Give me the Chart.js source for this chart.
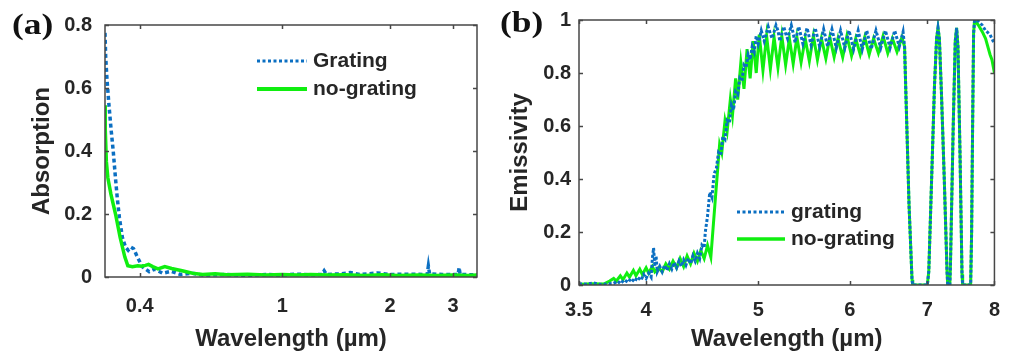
<!DOCTYPE html>
<html>
<head>
<meta charset="utf-8">
<script src="https://cdn.jsdelivr.net/npm/chart.js@4.4.1/dist/chart.umd.min.js"></script>
<style>
  html, body { margin: 0; padding: 0; background: #fff; width: 1013px; height: 354px; overflow: hidden; }
  .panel { position: absolute; top: 0; }
  #panelA { left: 0; }
  #panelB { left: 500px; }
</style>
</head>
<body>
<div class="panel" id="panelA"><canvas id="chartA" width="500" height="354"></canvas></div>
<div class="panel" id="panelB"><canvas id="chartB" width="513" height="354"></canvas></div>
<script>
// ---- data: [wavelength (um), value] ----

// (a) absorption, log wavelength axis
const absGrating = [
  [0.320, 0.775], [0.3214, 0.70], [0.3241, 0.628], [0.3283, 0.545], [0.3326, 0.471],
  [0.3375, 0.398], [0.3422, 0.315], [0.3462, 0.252], [0.351, 0.189], [0.3578, 0.126],
  [0.365, 0.095], [0.3714, 0.085], [0.378, 0.095], [0.3846, 0.09], [0.3938, 0.064],
  [0.4071, 0.032], [0.4252, 0.017], [0.44, 0.025], [0.4637, 0.012], [0.49, 0.018],
  [0.52, 0.008], [0.56, 0.012], [0.6, 0.006], [0.7, 0.008], [0.8, 0.005], [0.9, 0.008],
  [1.0, 0.006], [1.1, 0.009], [1.2, 0.007], [1.29, 0.008], [1.31, 0.02], [1.33, 0.008],
  [1.45, 0.01], [1.55, 0.014], [1.65, 0.008], [1.85, 0.013], [2.0, 0.008], [2.3, 0.009],
  [2.54, 0.008], [2.56, 0.035], [2.58, 0.01], [2.8, 0.008], [3.1, 0.008], [3.12, 0.03],
  [3.14, 0.008], [3.5, 0.007]
];
const absNoGrating = [
  [0.320, 0.545], [0.3205, 0.47], [0.3228, 0.367], [0.3259, 0.315], [0.3324, 0.263],
  [0.3424, 0.2], [0.3527, 0.126], [0.3634, 0.064], [0.3705, 0.036], [0.3817, 0.033],
  [0.395, 0.036], [0.405, 0.034], [0.415, 0.037], [0.4233, 0.04], [0.435, 0.033],
  [0.45, 0.026], [0.47, 0.033], [0.491, 0.027], [0.5255, 0.02], [0.5618, 0.012],
  [0.6, 0.008], [0.65, 0.01], [0.7, 0.007], [0.8, 0.009], [0.9, 0.006], [1.0, 0.008],
  [1.1, 0.006], [1.2, 0.008], [1.35, 0.006], [1.5, 0.007], [1.7, 0.005], [1.9, 0.007],
  [2.1, 0.005], [2.4, 0.006], [2.7, 0.005], [3.0, 0.006], [3.3, 0.005], [3.5, 0.006]
];
const absXTicks = [0.4, 1, 2, 3];
const absYTicks = [0, 0.2, 0.4, 0.6, 0.8];

// (b) emissivity, log wavelength axis 3.5-8
const emiGrating = [
  [3.5, 0.005], [3.55, 0.003], [3.6, 0.008], [3.65, 0.002], [3.7, 0.004], [3.75, 0.006],
  [3.78, 0.015], [3.8, 0.005], [3.83, 0.02], [3.86, 0.01], [3.88, 0.025], [3.91, 0.012],
  [3.93, 0.03], [3.96, 0.018], [3.98, 0.04], [4.0, 0.025], [4.02, 0.045], [4.04, 0.03],
  [4.05, 0.1], [4.06, 0.14], [4.07, 0.07], [4.08, 0.11], [4.09, 0.05], [4.11, 0.07],
  [4.13, 0.05], [4.15, 0.075], [4.17, 0.055], [4.19, 0.08], [4.21, 0.06], [4.23, 0.085],
  [4.25, 0.065], [4.27, 0.09], [4.29, 0.07], [4.31, 0.095], [4.33, 0.075], [4.35, 0.1],
  [4.37, 0.08], [4.39, 0.11], [4.41, 0.09], [4.43, 0.12], [4.45, 0.1], [4.47, 0.15],
  [4.49, 0.14], [4.5, 0.2], [4.52, 0.26], [4.54, 0.35], [4.56, 0.33], [4.58, 0.42],
  [4.6, 0.44], [4.62, 0.5], [4.64, 0.49], [4.66, 0.56], [4.68, 0.55], [4.7, 0.62],
  [4.72, 0.61], [4.74, 0.68], [4.76, 0.66], [4.78, 0.73], [4.8, 0.72], [4.82, 0.78],
  [4.84, 0.77], [4.86, 0.83], [4.88, 0.82], [4.9, 0.87], [4.92, 0.85], [4.94, 0.9],
  [4.96, 0.88], [4.98, 0.94], [5.0, 0.91],
  [5.03, 0.96], [5.06, 0.92], [5.1, 0.975], [5.12, 0.95], [5.14, 0.93], [5.18, 0.98],
  [5.2, 0.96], [5.22, 0.92], [5.26, 0.975], [5.28, 0.95], [5.3, 0.93], [5.34, 0.98],
  [5.36, 0.95], [5.38, 0.915], [5.42, 0.975], [5.465, 0.91],
  [5.51, 0.97], [5.555, 0.905], [5.6, 0.97], [5.65, 0.9], [5.695, 0.965], [5.74, 0.9],
  [5.79, 0.965], [5.84, 0.895], [5.89, 0.96], [5.94, 0.895], [5.99, 0.96], [6.045, 0.89],
  [6.1, 0.96], [6.15, 0.89], [6.205, 0.96], [6.26, 0.89], [6.32, 0.96], [6.38, 0.895],
  [6.44, 0.96], [6.5, 0.895], [6.56, 0.96], [6.62, 0.9], [6.67, 0.955],
  [6.69, 0.9], [6.72, 0.6], [6.75, 0.3], [6.79, 0.02], [6.8, 0], [6.9, 0], [7.0, 0],
  [7.02, 0.05], [7.06, 0.4], [7.1, 0.75], [7.13, 0.93], [7.15, 0.97], [7.17, 0.93],
  [7.2, 0.72], [7.24, 0.4], [7.28, 0.05], [7.29, 0], [7.32, 0], [7.33, 0.08], [7.37, 0.6],
  [7.4, 0.92], [7.42, 0.97], [7.44, 0.9], [7.47, 0.5], [7.5, 0.04], [7.51, 0], [7.63, 0],
  [7.645, 0.2], [7.66, 0.6], [7.675, 0.95], [7.69, 1.0], [7.75, 0.995], [7.81, 0.98],
  [7.86, 0.96], [7.93, 0.945], [8.0, 0.91]
];
const emiNoGrating = [
  [3.5, 0.003], [3.6, 0.005], [3.68, 0.004], [3.72, 0.015], [3.75, 0.025], [3.77, 0.015],
  [3.8, 0.035], [3.82, 0.02], [3.85, 0.045], [3.87, 0.03], [3.9, 0.055], [3.92, 0.035],
  [3.95, 0.06], [3.97, 0.04], [4.0, 0.065], [4.02, 0.045], [4.05, 0.07], [4.07, 0.05],
  [4.1, 0.065], [4.13, 0.05], [4.16, 0.08], [4.19, 0.06], [4.22, 0.09], [4.25, 0.065],
  [4.28, 0.1], [4.31, 0.07], [4.34, 0.11], [4.37, 0.08], [4.4, 0.12], [4.43, 0.09],
  [4.46, 0.13], [4.49, 0.1], [4.52, 0.15], [4.55, 0.105],
  [4.59, 0.32], [4.63, 0.53], [4.65, 0.5], [4.68, 0.62], [4.7, 0.58], [4.73, 0.7],
  [4.75, 0.64], [4.78, 0.78], [4.8, 0.7], [4.83, 0.84], [4.86, 0.74], [4.89, 0.89],
  [4.92, 0.78], [4.95, 0.92], [4.98, 0.8],
  [5.01, 0.945], [5.047, 0.81], [5.084, 0.94], [5.122, 0.815], [5.16, 0.935], [5.2, 0.82],
  [5.24, 0.94], [5.28, 0.83], [5.32, 0.93], [5.36, 0.835], [5.4, 0.935], [5.445, 0.84],
  [5.49, 0.93], [5.535, 0.845], [5.58, 0.94], [5.625, 0.85], [5.67, 0.93], [5.72, 0.855],
  [5.765, 0.935], [5.815, 0.86], [5.86, 0.93], [5.915, 0.86], [5.965, 0.94], [6.02, 0.865],
  [6.07, 0.93], [6.125, 0.87], [6.18, 0.935], [6.235, 0.87], [6.29, 0.93], [6.35, 0.875],
  [6.41, 0.94], [6.47, 0.875], [6.53, 0.93], [6.59, 0.88], [6.655, 0.935],
  [6.69, 0.9], [6.72, 0.6], [6.75, 0.3], [6.79, 0.02], [6.8, 0], [6.9, 0], [7.0, 0],
  [7.02, 0.05], [7.06, 0.4], [7.1, 0.75], [7.13, 0.93], [7.15, 0.97], [7.17, 0.93],
  [7.2, 0.72], [7.24, 0.4], [7.28, 0.05], [7.29, 0], [7.32, 0], [7.33, 0.08], [7.37, 0.6],
  [7.4, 0.92], [7.42, 0.97], [7.44, 0.9], [7.47, 0.5], [7.5, 0.04], [7.51, 0], [7.63, 0],
  [7.645, 0.2], [7.66, 0.6], [7.675, 0.95], [7.69, 1.0], [7.75, 0.98], [7.81, 0.955],
  [7.86, 0.93], [7.93, 0.87], [7.96, 0.85], [8.0, 0.8]
];
const emiXTicks = [3.5, 4, 5, 6, 7, 8];
const emiYTicks = [0, 0.2, 0.4, 0.6, 0.8, 1];

// ---- styling ----
const BLUE = '#0b6fc2';
const GREEN = '#10ee10';
const TEXT = '#262626';
const FRAME = '#474747';
const SANS = "'Liberation Sans', Arial, sans-serif";

const toPts = (arr) => arr.map(([x, y]) => ({ x, y }));

// frame box, inward ticks, in-plot legend and panel tag
const framePlugin = {
  id: 'frame',
  afterDatasetsDraw(chart, args, opts) {
    const { ctx, chartArea: a, scales: { x, y } } = chart;
    ctx.save();
    ctx.strokeStyle = FRAME;
    ctx.lineWidth = 1.5;
    ctx.strokeRect(a.left, a.top, a.width, a.height);
    ctx.beginPath();
    x.ticks.forEach(t => {
      const px = Math.round(x.getPixelForValue(t.value)) + 0.5;
      ctx.moveTo(px, a.bottom); ctx.lineTo(px, a.bottom - 4);
      ctx.moveTo(px, a.top); ctx.lineTo(px, a.top + 4);
    });
    y.ticks.forEach(t => {
      const py = Math.round(y.getPixelForValue(t.value)) + 0.5;
      ctx.moveTo(a.left, py); ctx.lineTo(a.left + 4, py);
      ctx.moveTo(a.right, py); ctx.lineTo(a.right - 4, py);
    });
    ctx.stroke();

    // legend
    const lg = opts.legend;
    ctx.font = 'bold 21px ' + SANS;
    ctx.fillStyle = TEXT;
    ctx.textBaseline = 'middle';
    ctx.textAlign = 'left';
    lg.items.forEach((it, i) => {
      const yy = lg.y + i * lg.gap;
      ctx.beginPath();
      ctx.strokeStyle = it.color;
      ctx.lineWidth = it.width;
      ctx.setLineDash(it.dash || []);
      ctx.moveTo(lg.x, yy);
      ctx.lineTo(lg.x + lg.len, yy);
      ctx.stroke();
      ctx.setLineDash([]);
      ctx.fillText(it.label, lg.x + lg.len + 6, yy);
    });

    // panel tag, a little wider than the plain serif face
    ctx.font = "bold 29px 'Liberation Serif', 'Times New Roman', serif";
    ctx.fillStyle = '#111';
    ctx.translate(opts.tagX, opts.tagY);
    ctx.scale(1.22, 1);
    ctx.fillText(opts.tag, 0, 0);
    ctx.restore();
  }
};

function axisOptions(tickValues, extra) {
  return Object.assign({
    grid: { display: false, drawTicks: false },
    border: { display: false },
    ticks: {
      color: TEXT,
      font: { family: SANS, size: 20, weight: 'bold' },
      autoSkip: false,
      maxRotation: 0,
      callback: (v) => String(v)
    }
  }, extra);
}

function makeChart(id, datasets, cfg) {
  const xOpts = axisOptions(cfg.xTicks, {
    type: 'logarithmic', min: cfg.xMin, max: cfg.xMax,
    afterBuildTicks: (ax) => {
      ax.ticks = cfg.xTicks.map(v => ({ value: v }));
      ax.min = cfg.xMin;
      ax.max = cfg.xMax;
    },
    afterFit: (ax) => { ax.height = cfg.xHeight; },
    title: {
      display: true, text: 'Wavelength (µm)', color: TEXT,
      font: { family: SANS, size: 24, weight: 'bold' },
      padding: { top: 0, bottom: 0 }
    }
  });
  xOpts.ticks.padding = cfg.xPad;
  const yOpts = axisOptions(cfg.yTicks, {
    type: 'linear', min: 0, max: cfg.yMax,
    afterBuildTicks: (ax) => { ax.ticks = cfg.yTicks.map(v => ({ value: v })); },
    afterFit: (ax) => { ax.width = cfg.yWidth; },
    title: {
      display: true, text: cfg.yTitle, color: TEXT,
      font: { family: SANS, size: 24, weight: 'bold' },
      padding: { top: cfg.yTitlePad, bottom: 0 }
    }
  });
  yOpts.ticks.padding = cfg.yPad;

  return new Chart(document.getElementById(id), {
    type: 'line',
    data: { datasets },
    options: {
      responsive: false,
      animation: false,
      layout: { padding: { top: cfg.padTop, right: cfg.padRight, left: 0, bottom: 0 } },
      elements: { point: { radius: 0 }, line: { tension: 0 } },
      plugins: {
        legend: { display: false },
        tooltip: { enabled: false },
        frame: cfg.frame
      },
      scales: { x: xOpts, y: yOpts }
    },
    plugins: [framePlugin]
  });
}

// (a) — no-grating drawn on top
makeChart('chartA', [
  { data: toPts(absNoGrating), borderColor: GREEN, borderWidth: 3.5 },
  { data: toPts(absGrating), borderColor: BLUE, borderWidth: 3.5, borderDash: [4, 3] }
], {
  xMin: 0.32, xMax: 3.5, xTicks: absXTicks, yTicks: absYTicks, yMax: 0.8,
  yTitle: 'Absorption', xHeight: 77, yWidth: 105, padTop: 22, padRight: 23,
  xPad: 17, yPad: 13, yTitlePad: 28,
  frame: {
    tag: '(a)', tagX: 12, tagY: 27,
    legend: {
      x: 257, y: 61, gap: 28, len: 50,
      items: [
        { label: 'Grating', color: BLUE, width: 3, dash: [3, 2.5] },
        { label: 'no-grating', color: GREEN, width: 4 }
      ]
    }
  }
});

// (b) — grating drawn on top
makeChart('chartB', [
  { data: toPts(emiGrating), borderColor: BLUE, borderWidth: 3, borderDash: [3, 2] },
  { data: toPts(emiNoGrating), borderColor: GREEN, borderWidth: 3 }
], {
  xMin: 3.5, xMax: 8, xTicks: emiXTicks, yTicks: emiYTicks, yMax: 1,
  yTitle: 'Emissivity', xHeight: 69, yWidth: 79, padTop: 18, padRight: 13,
  xPad: 13, yPad: 8, yTitlePad: 6,
  frame: {
    tag: '(b)', tagX: 0, tagY: 25,
    legend: {
      x: 237, y: 212, gap: 27, len: 48,
      items: [
        { label: 'grating', color: BLUE, width: 3, dash: [3, 2.5] },
        { label: 'no-grating', color: GREEN, width: 3.5 }
      ]
    }
  }
});
</script>
</body>
</html>
